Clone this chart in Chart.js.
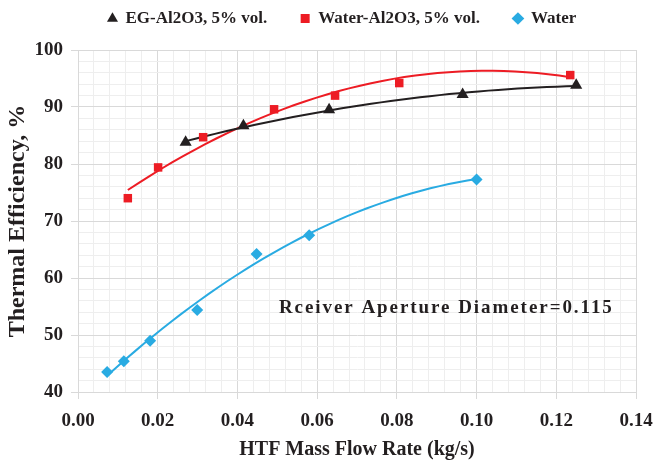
<!DOCTYPE html>
<html>
<head>
<meta charset="utf-8">
<script src="https://cdn.jsdelivr.net/npm/chart.js@4"></script>
<style>
  html, body { margin: 0; padding: 0; background: #fff; }
  #wrap { width: 654px; height: 462px; }
</style>
</head>
<body>
<div id="wrap"><canvas id="effChart"></canvas></div>
<script>
// values
const egFlow = [0.027, 0.0415, 0.063, 0.0965, 0.125];
const egEff = [83.8, 86.7, 89.5, 92.2, 93.8];
const waterAlFlow = [0.0125, 0.0201, 0.0314, 0.0492, 0.0645, 0.0806, 0.1235];
const waterAlEff = [74.0, 79.4, 84.7, 89.6, 92.0, 94.2, 95.6];
const waterFlow = [0.0073, 0.0115, 0.0181, 0.0299, 0.0448, 0.058, 0.100];
const waterEff = [43.5, 45.4, 49.0, 54.4, 64.2, 67.5, 77.3];
const seriesNames = ['EG-Al2O3, 5% vol.', 'Water-Al2O3, 5% vol.', 'Water'];
const noteText = 'Rceiver Aperture Diameter=0.115';

const serif = "'Liberation Serif', 'Times New Roman', serif";
const majorGrid = '#d9d9d9';
const minorGrid = '#eeeeee';

function toPoints(xs, ys) {
    return xs.map((x, i) => ({ x: x, y: ys[i] }));
}

// 2nd order polynomial trendline (least squares), like the spreadsheet one
function polyFit(xs, ys) {
    let s = [0, 0, 0, 0, 0], t = [0, 0, 0];
    xs.forEach((x, i) => {
        for (let k = 0; k < 5; k++) s[k] += Math.pow(x, k);
        for (let k = 0; k < 3; k++) t[k] += Math.pow(x, k) * ys[i];
    });
    const m = [[s[0], s[1], s[2], t[0]], [s[1], s[2], s[3], t[1]], [s[2], s[3], s[4], t[2]]];
    for (let c = 0; c < 3; c++) {
        for (let r = c + 1; r < 3; r++) {
            const f = m[r][c] / m[c][c];
            for (let k = c; k < 4; k++) m[r][k] -= f * m[c][k];
        }
    }
    const a = [0, 0, 0];
    for (let r = 2; r >= 0; r--) {
        let v = m[r][3];
        for (let k = r + 1; k < 3; k++) v -= m[r][k] * a[k];
        a[r] = v / m[r][r];
    }
    return a;
}

function trendline(xs, ys) {
    const a = polyFit(xs, ys);
    const lo = Math.min(...xs), hi = Math.max(...xs);
    const pts = [];
    for (let i = 0; i <= 40; i++) {
        const x = lo + (hi - lo) * i / 40;
        pts.push({ x: x, y: a[0] + a[1] * x + a[2] * x * x });
    }
    return pts;
}

const notePlugin = {
    id: 'note',
    afterDatasetsDraw(chart) {
        const ctx = chart.ctx;
        const xs = chart.scales.x, ys = chart.scales.y;
        ctx.save();
        ctx.font = 'bold 19px ' + serif;
        ctx.fillStyle = '#231f20';
        ctx.textBaseline = 'alphabetic';
        const plain = ctx.measureText(noteText).width;
        ctx.letterSpacing = ((333 - plain) / (noteText.length - 1)).toFixed(2) + 'px';
        ctx.fillText(noteText, xs.getPixelForValue(0.0504), ys.getPixelForValue(53.9));
        ctx.restore();
    }
};

function isMajor(v, step) {
    return Math.abs(v / step - Math.round(v / step)) < 1e-6;
}

const ctx = document.getElementById('effChart').getContext('2d');
new Chart(ctx, {
    type: 'scatter',
    data: {
        datasets: [
            {
                label: seriesNames[0] + '      ',
                data: toPoints(egFlow, egEff),
                pointStyle: 'triangle',
                pointRadius: 7,
                backgroundColor: '#231f20',
                borderColor: '#231f20',
                borderWidth: 0,
                order: 0
            },
            {
                label: seriesNames[1] + '      ',
                data: toPoints(waterAlFlow, waterAlEff),
                pointStyle: 'rect',
                pointRadius: 6,
                backgroundColor: '#ed1c24',
                borderColor: '#ed1c24',
                borderWidth: 0,
                order: 0
            },
            {
                label: seriesNames[2] + '       ',
                data: toPoints(waterFlow, waterEff),
                pointStyle: 'rectRot',
                pointRadius: 6,
                backgroundColor: '#29abe2',
                borderColor: '#29abe2',
                borderWidth: 0,
                order: 0
            },
            {
                label: 'trend-eg',
                data: trendline(egFlow, egEff),
                showLine: true,
                pointRadius: 0,
                borderColor: '#231f20',
                borderWidth: 2,
                order: 1
            },
            {
                label: 'trend-wateral',
                data: trendline(waterAlFlow, waterAlEff),
                showLine: true,
                pointRadius: 0,
                borderColor: '#ed1c24',
                borderWidth: 2,
                order: 1
            },
            {
                label: 'trend-water',
                data: trendline(waterFlow, waterEff),
                showLine: true,
                pointRadius: 0,
                borderColor: '#29abe2',
                borderWidth: 2,
                order: 1
            }
        ]
    },
    options: {
        responsive: true,
        maintainAspectRatio: false,
        animation: false,
        layout: { padding: { top: 2, right: 18, left: 0, bottom: 0 } },
        plugins: {
            tooltip: { enabled: false },
            legend: {
                position: 'top',
                fullSize: false,
                labels: {
                    usePointStyle: true,
                    boxWidth: 9,
                    boxHeight: 9,
                    padding: 8,
                    color: '#231f20',
                    font: { family: serif, size: 17, weight: 'bold' },
                    filter: item => item.text.indexOf('trend') !== 0
                }
            },
            // empty subtitle only used as a gap between legend and plot
            subtitle: {
                display: true,
                text: '',
                weight: 500,
                padding: 0,
                font: { size: 10, lineHeight: 1.3 }
            }
        },
        scales: {
            x: {
                type: 'linear',
                min: 0,
                max: 0.14,
                ticks: {
                    stepSize: 0.004,
                    autoSkip: false,
                    maxRotation: 0,
                    padding: 11,
                    color: '#231f20',
                    font: { family: serif, size: 19, weight: 'bold' },
                    callback: v => isMajor(v, 0.02) ? v.toFixed(2) : ''
                },
                grid: {
                    color: c => isMajor(c.tick.value, 0.02) ? majorGrid : minorGrid,
                    tickColor: c => isMajor(c.tick.value, 0.02) ? majorGrid : 'transparent',
                    tickLength: 7
                },
                border: { color: majorGrid },
                title: {
                    display: true,
                    text: 'HTF Mass Flow Rate (kg/s)',
                    color: '#231f20',
                    font: { family: serif, size: 20, weight: 'bold' },
                    padding: { top: 0, bottom: 0 }
                },
                afterFit: s => {
                    s.height = 70;
                    s.paddingLeft = 0;
                    s.paddingRight = 18;
                }
            },
            y: {
                min: 40,
                max: 100,
                ticks: {
                    stepSize: 2,
                    autoSkip: false,
                    padding: 8,
                    color: '#231f20',
                    font: { family: serif, size: 19, weight: 'bold' },
                    callback: v => isMajor(v, 10) ? v : ''
                },
                grid: {
                    color: c => isMajor(c.tick.value, 10) ? majorGrid : minorGrid,
                    tickColor: c => isMajor(c.tick.value, 10) ? majorGrid : 'transparent',
                    tickLength: 7
                },
                border: { color: majorGrid },
                title: {
                    display: true,
                    text: 'Thermal Efficiency, %',
                    color: '#231f20',
                    font: { family: serif, size: 24, weight: 'bold' },
                    padding: { top: 3, bottom: 4 }
                },
                afterFit: s => { s.width = 78; }
            }
        }
    },
    plugins: [notePlugin]
});
</script>
</body>
</html>
